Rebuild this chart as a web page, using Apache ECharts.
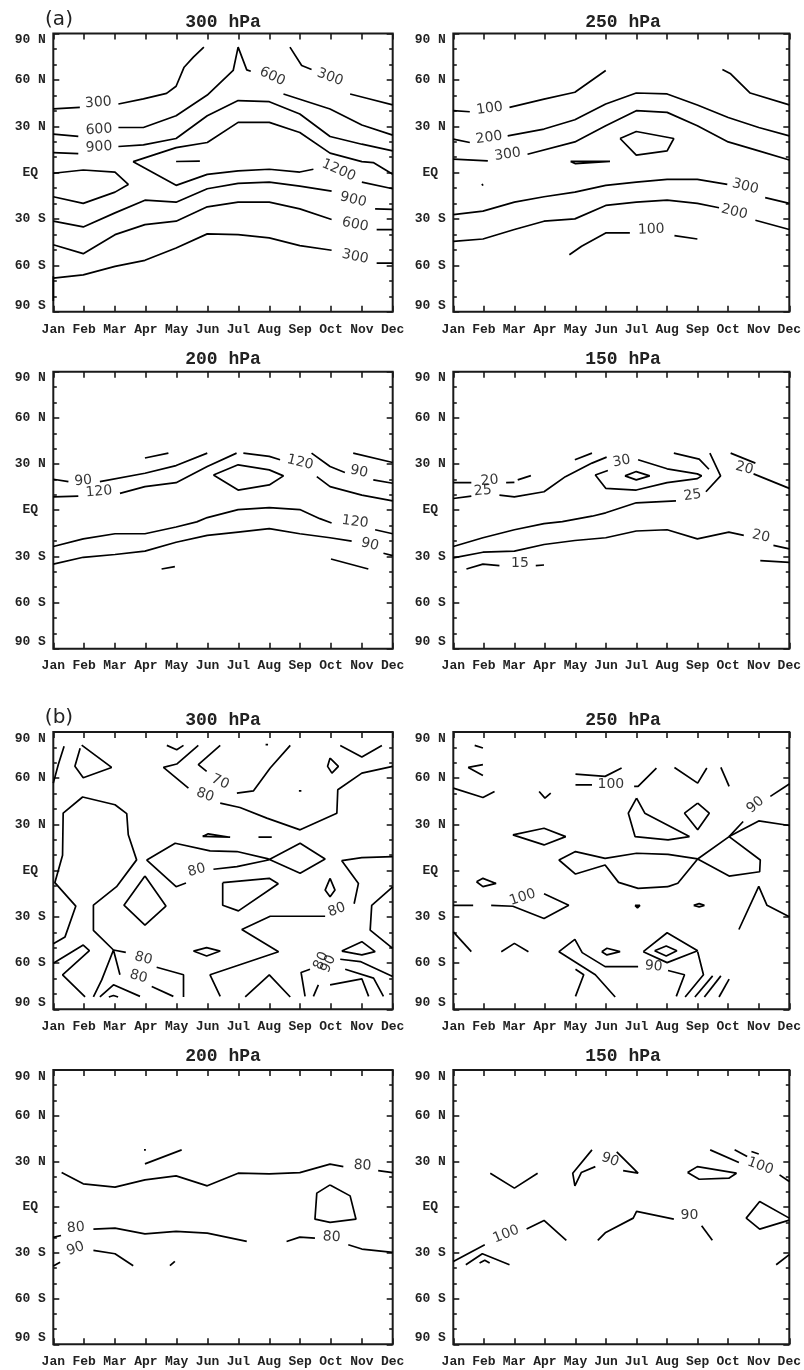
<!DOCTYPE html>
<html><head><meta charset="utf-8">
<script src="https://cdn.jsdelivr.net/npm/echarts@6/dist/echarts.min.js"></script>
<style>html,body{margin:0;padding:0;background:#fff}#c{width:804px;height:1370px}</style>
</head><body><div id="c"></div>
<script>
// ---------- axis tick labels ----------
const monthLabels = ['Jan','Feb','Mar','Apr','May','Jun','Jul','Aug','Sep','Oct','Nov','Dec'];
const latTickLabels = ['90 S','60 S','30 S','EQ','30 N','60 N','90 N'];
const panelTitles = ['300 hPa','250 hPa','200 hPa','150 hPa','300 hPa','250 hPa','200 hPa','150 hPa'];
const groupLetters = ['(a)','(b)'];

// ---------- contour polylines: [month (1=Jan..12=Dec), latitude] ----------
// (a) 300 hPa
const a300Lines = [
 [[1,41.2],[1.86,42.2]],
 [[3.11,44.4],[3.92,47.7],[4.67,51.3],[4.98,55.9],[5.24,68.2],[5.54,74.7],[5.88,81.2]],
 [[8.67,81.2],[9.05,69.3],[9.37,66.7]],
 [[10.62,50.9],[11.16,48.1],[12,43.8]],
 [[1,24.9],[1.81,23.4]],
 [[3.11,29.2],[3.92,29.2],[4.98,36.8],[5.99,50.2],[6.83,66.1],[6.99,81.2],[7.27,66.5],[7.4,65.6]],
 [[8.46,50.9],[9.97,41.2],[11,30.8],[12,24.3]],
 [[1,13],[1.81,12.3]],
 [[3.11,16.9],[3.92,18],[4.98,22.1],[5.99,36.8],[6.99,46.6],[8,45.9],[8.99,37.9],[9.97,23.4],[11,18.4],[12,14.1]],
 [[12,-1.1],[11.37,6.5],[11,7.1],[9.97,12.6],[8.99,26],[8,32.5],[6.99,32.5],[5.99,19.5],[4.98,16.2],[3.59,7.1],[4.98,-8.2],[5.99,-1.1],[6.99,1.1],[8,2.2],[8.99,0.4],[9.43,2.2]],
 [[11,-6.1],[12,-10.4]],
 [[4.98,7.2],[5.75,7.5],[5.75,6.8],[4.98,7.2]],
 [[1,-0.4],[1.97,1.7],[3,0.4],[3.43,-7.6],[3,-12.6],[1.97,-19.9],[1,-15.6]],
 [[1,-31.4],[1.97,-35.1],[3,-26],[3.97,-17.8],[4.98,-19.1],[5.99,-10.4],[6.99,-6.9],[8,-6.1],[8.99,-8.7],[10.02,-11.9]],
 [[11.43,-23.4],[12,-23.8]],
 [[1,-46.6],[1.97,-52.4],[3,-40.1],[3.97,-33.6],[4.98,-31.4],[5.99,-22.1],[6.99,-19.1],[8,-19.1],[8.99,-23.4],[10.02,-30.3]],
 [[11.48,-36.8],[12,-36.8]],
 [[1,-68.2],[1.97,-66.1],[3,-60.6],[3.97,-56.7],[4.98,-48.7],[5.99,-39.6],[6.99,-40.1],[8,-42.2],[8.99,-47.2],[10.02,-50.2]],
 [[11.48,-58.5],[12,-58.5]],
 [[1,-67],[1,-83]]
];
const a300Labels = [
 [2.46,45.3,'300',4],[2.48,27.8,'600',4],[2.48,16.5,'900',4],[8.1,62.2,'600',-25],[9.97,61.7,'300',-20],
 [10.25,1.5,'1200',-24],[10.72,-17.5,'900',-14],[10.78,-33.6,'600',-12],[10.78,-54.4,'300',-12]
];
// (a) 250 hPa
const a250Lines = [
 [[1,40.1],[1.54,39.4]],
 [[2.84,42.2],[3.97,47.6],[4.98,52],[5.99,66.1]],
 [[9.81,66.7],[10.08,63.9],[10.72,51.5],[12,43.8]],
 [[1,21.7],[1.54,19.5]],
 [[2.78,23.8],[3.97,28.2],[4.98,34.2],[5.99,44.4],[6.99,51.5],[8,50.9],[8.99,43.8],[10,35.7],[11,29.2],[12,23.8]],
 [[1,8.7],[2.13,7.6]],
 [[3.43,11.9],[4.98,19.9],[5.99,30.3],[6.99,40.1],[8,39],[8.99,30.3],[10,19.9],[11,14.1],[12,8.2]],
 [[6.46,22.1],[6.99,26.6],[8.22,22.1],[8,14.1],[6.99,11.3],[6.46,22.1]],
 [[4.84,7.3],[6.13,7.3],[5.0,5.8],[4.84,7.3]],
 [[1.94,-7.2],[2.0,-7.2],[1.97,-8.4],[1.94,-7.2]],
 [[1,-27.1],[1.97,-24.9],[3,-19.1],[3.97,-15.6],[4.98,-12.6],[5.99,-8.2],[6.99,-6.1],[8,-4.3],[8.99,-4.3],[9.97,-7.6]],
 [[11.21,-16.2],[12,-19.9]],
 [[1,-44.4],[1.97,-42.9],[3,-36.8],[3.97,-31.4],[4.98,-29.9],[5.99,-21.2],[6.99,-19.1],[8,-17.8],[8.99,-19.9],[9.7,-22.7]],
 [[10.89,-30.8],[12,-36.8]],
 [[4.8,-53.1],[5.2,-47.6],[5.99,-39],[6.78,-39]],
 [[8.24,-40.7],[8.99,-42.9]]
];
const a250Labels = [
 [2.19,41.4,'100',8],[2.17,22.5,'200',8],[2.78,11.7,'300',8],[10.56,-9,'300',-14],[10.2,-25.4,'200',-14],[7.48,-36.8,'100',2]
];
// (a) 200 hPa
const a200Lines = [
 [[3.97,33.9],[4.73,37.1]],
 [[1,20.1],[1.49,18.6]],
 [[2.51,18.6],[3.97,24],[4.98,29],[5.99,37.1]],
 [[1,8.7],[1.81,9.2]],
 [[3.16,10.9],[3.97,15.3],[4.98,17.9],[5.99,28.4],[6.94,37.1]],
 [[7.16,37.1],[8,35],[8.35,32.8]],
 [[9.54,21.8],[9.97,15.3],[11,9.8],[12,6.1]],
 [[9.37,37.1],[9.97,28.4],[10.45,24.5]],
 [[11.37,19.7],[12,17.5]],
 [[10.72,37.1],[12,31]],
 [[6.19,22.9],[6.99,29.5],[8,26.2],[8.46,22.3],[8,16.4],[6.99,13.1],[6.19,22.9]],
 [[1,-23.6],[1.97,-18.6],[3,-15.3],[3.97,-15.3],[4.98,-10.9],[5.65,-7.6],[5.99,-4.8],[6.99,0.4],[8,1.7],[8.99,0.4],[9.64,-5.5],[10.02,-8.3]],
 [[11.43,-12.7],[12,-15.3]],
 [[1,-35],[1.97,-30.6],[3,-28.8],[3.97,-26.6],[4.98,-20.8],[5.99,-16.4],[6.99,-14.2],[8,-12],[8.99,-15.3],[9.97,-17.9],[10.67,-20.1]],
 [[11.7,-28],[12,-29.5]],
 [[4.51,-38.2],[4.94,-36.7]],
 [[10,-31.7],[11.21,-38.2]]
];
const a200Labels = [
 [1.97,19,'90',5],[2.48,12,'120',5],[9,31,'120',-14],[10.91,25.1,'90',-12],[10.78,-7.6,'120',-8],[11.26,-22.3,'90',-14]
];
// (a) 150 hPa
const a150Lines = [
 [[1,17.9],[1.59,17.9]],
 [[2.73,17.9],[3.0,18.1]],
 [[3.11,19.7],[3.54,22.5]],
 [[4.98,32.8],[5.54,37.1]],
 [[1,7.6],[1.59,9.2]],
 [[2.51,9.8],[3,8.7],[3.97,12],[4.67,21.8],[5.54,30.6],[6.02,34.5]],
 [[7.05,32.8],[8,26.9],[8.99,23.6],[9.13,22.3],[8.99,20.5],[8,17.9],[6.99,13.1],[5.99,14.2],[5.65,22.9],[6.06,25.8]],
 [[6.62,22.3],[6.99,25.1],[7.43,22.3],[6.99,19.7],[6.62,22.3]],
 [[8.22,37.1],[9.05,33.2],[9.37,26.6]],
 [[1,-23.6],[1.97,-17.9],[3,-12.7],[3.97,-8.7],[4.57,-7.4],[5.54,-3.9],[5.99,-1.7],[6.99,4.8],[8.29,6.1]],
 [[9.27,12],[9.75,22.3],[9.4,37.1]],
 [[10.08,37.1],[10.89,30.6]],
 [[10.83,23.6],[12,14.2]],
 [[1,-31],[1.97,-27.3],[3,-26.6],[3.97,-22.3],[4.98,-19.7],[5.99,-17.9],[6.99,-13.5],[8,-12.7],[8.99,-18.6],[10.02,-14.2],[10.51,-16.4]],
 [[11.48,-22.9],[12,-25.1]],
 [[11.05,-32.8],[12,-33.9]],
 [[1.43,-38.2],[1.97,-35],[2.51,-36]],
 [[3.7,-36],[3.97,-35.6]]
];
const a150Labels = [
 [2.19,19.3,'20',5],[1.97,12.6,'25',5],[6.51,31.8,'30',10],[8.83,9.6,'25',8],[10.53,27.3,'20',-15],[11.07,-17,'20',-12],[3.18,-34.5,'15',0]
];
// (b) 300 hPa
const b300Lines = [
 [[1,56.8],[1.16,68.8],[1.35,80.7]],
 [[1.92,81.5],[2.89,67],[1.97,60.3],[1.70,67.7],[1.87,79.5]],
 [[4.68,81.3],[5,78.5],[5.22,81.3]],
 [[5.70,81.3],[5.0,69.2],[4.57,67],[5.38,53.6]],
 [[6.41,43.8],[7.05,41],[7.92,34.1],[9,26.5],[10.19,37.3],[10.22,52.5],[11,63.3],[12,67.7]],
 [[6.41,81.3],[5.70,68.8],[5.97,64.4]],
 [[6.95,50.3],[7.49,51.8],[8.03,66.6],[8.68,81.3]],
 [[7.88,81.8],[7.96,81.8]],
 [[8.96,51.8],[9.04,51.8]],
 [[9.97,73.1],[10.24,67.7],[10.03,63.3],[9.89,67.7],[9.97,73.1]],
 [[10.30,81.3],[11,73.8],[11.65,81.3]],
 [[1,-47.4],[1.38,-43],[1.73,-23],[1.05,-7.8],[1.3,10],[1.32,37.4],[1.95,47.8],[3,42.8],[3.38,37],[3.43,23.3],[3.70,7],[3.05,-10.4],[2.30,-22.4],[2.30,-38.7],[2.95,-51.5]],
 [[3.97,-3.5],[4.65,-23],[3.97,-35.4],[3.29,-22.4],[3.97,-3.5]],
 [[5.3,-8],[4.98,-10.4],[4.03,6.9],[4.95,17.8],[6.08,12.8],[6.95,12.4],[7.97,7.6],[9,-1.7],[9.81,7.6],[9,17.8],[7.97,6.9],[6.95,2.6],[6.19,0.9]],
 [[5.84,22.2],[6.02,23.9],[6.73,21.7],[5.84,22.2]],
 [[7.65,21.7],[8.08,21.7]],
 [[12,9.1],[11,8.5],[10.35,6.5],[10.89,-8.3],[10.75,-21.5]],
 [[9.81,-29.6],[8.03,-29.6],[7.11,-38.2],[8.30,-52.6],[6.08,-67.6],[6.41,-81.6]],
 [[6.49,-7.8],[8,-5],[8.29,-8.5],[7,-26.1],[6.49,-22.5],[6.49,-7.8]],
 [[9.97,-5],[10.13,-12.6],[9.97,-17],[9.81,-12.6],[9.97,-5]],
 [[12,-10.6],[11.32,-22.5],[11.27,-38.6],[12,-50.4]],
 [[5.54,-52.2],[5.97,-50],[6.41,-52.2],[5.97,-55.4],[5.54,-52.2]],
 [[10.35,-52.2],[11,-46.1],[11.43,-52.6],[11,-54.7],[10.35,-52.2]],
 [[10.30,-57.5],[10.95,-59],[12,-68.7]],
 [[10.46,-64],[11.38,-69.8],[11.7,-81.6]],
 [[9.97,-74.1],[11,-70.2],[11.22,-81.6]],
 [[9.32,-64],[9.03,-66.1],[9.16,-81.6]],
 [[9.59,-74.1],[9.43,-81.6]],
 [[7.22,-82],[8.0,-67.6],[8.68,-82]],
 [[1,-60.1],[1.97,-48.3],[2.17,-51.9],[1.3,-67.6],[2.03,-82]],
 [[2.30,-82],[2.57,-70.9],[2.95,-51.5],[3.16,-67.6]],
 [[4.19,-75.2],[4.89,-81.6]],
 [[2.95,-51.5],[3.35,-53]],
 [[4.35,-62.7],[5.22,-67.6],[5.22,-82]],
 [[2.51,-82],[2.95,-74.1],[3.81,-81.6]],
 [[2.8,-82],[2.95,-81],[3.1,-82]]
];
const b300Labels = [
 [6.41,57.6,'70',-25],[5.92,49,'80',-20],[5.65,0.2,'80',15],[10.19,-25.5,'80',20],
 [3.92,-57,'80',-15],[3.76,-68.8,'80',-15],[9.68,-58.5,'80',65],[9.92,-60.5,'90',65]
];
// (b) 250 hPa
const b250Lines = [
 [[1.70,81.3],[1.97,79.6]],
 [[1.97,68.8],[1.49,67],[1.97,61.8]],
 [[1,53.6],[1.97,47.5],[2.35,51.4]],
 [[3.81,51.4],[4.0,47.1],[4.19,50.3]],
 [[5,62.7],[5.97,61.2],[6.51,66.6]],
 [[5,55.7],[5.54,55.7]],
 [[6.92,54.7],[7.05,54.7],[7.65,66.6]],
 [[8.24,67],[9,56.8],[9.3,66.6]],
 [[9.76,67],[10.03,54.7]],
 [[8.03,-10.4],[8.35,-8.2],[9,7.6],[10.03,22.1],[10.49,31.9]],
 [[11.38,48.2],[12,56.2]],
 [[7,47.1],[6.73,37.3],[6.95,22.1],[8.03,20],[8.73,22.1],[7.27,37.3],[7,47.1]],
 [[9,43.8],[9.38,37.3],[9,26.5],[8.57,37.3],[9,43.8]],
 [[2.95,23.2],[3.97,27.5],[4.68,22.1],[3.97,16.7],[2.95,23.2]],
 [[9,7.6],[8.03,10.6],[7,11.3],[5.97,8],[5,12.4],[4.46,6.9],[5,-2.2],[5.97,3.7],[6.41,-7.6],[7.05,-11.5],[8.03,-10.4]],
 [[9,7.6],[10.03,-3.5],[11.03,-0.7],[11.05,6.9],[10.03,22.1],[11,32.3],[12,29.3]],
 [[1.76,-7.2],[1.97,-5],[2.40,-8.3],[1.97,-10.4],[1.76,-7.2]],
 [[1,-22.5],[1.65,-22.5]],
 [[2.24,-22.5],[2.95,-23.1],[3.97,-31.1],[4.78,-22.5],[3.97,-15]],
 [[6.95,-22.5],[7.11,-22.5],[7.03,-24.2],[6.95,-22.5]],
 [[8.87,-22.5],[9.05,-21.4],[9.22,-22.5],[9.05,-23.5],[8.87,-22.5]],
 [[10.35,-38.2],[11,-10.2],[11.27,-22.5],[12,-30]],
 [[1,-39.7],[1.59,-52.6]],
 [[2.57,-52.6],[3,-47.2],[3.46,-52.6]],
 [[8.30,-81.6],[8.57,-67.6],[8.03,-64.8]],
 [[7.05,-62.3],[5.97,-62.3],[5.22,-53.2],[4.98,-44.6],[4.46,-52.6],[5.65,-67.6],[6.30,-82]],
 [[5.86,-52.6],[6.03,-50.4],[6.46,-52.6],[6.03,-54.7],[5.86,-52.6]],
 [[5,-64],[5.27,-67.6],[5,-81.6]],
 [[7.22,-52.6],[8,-40.3],[9,-52],[8,-59.7],[7.22,-52.6]],
 [[7.59,-52],[7.97,-48.9],[8.32,-52],[7.97,-55.4],[7.59,-52]],
 [[9,-52.6],[9.19,-67.6],[8.59,-82]],
 [[8.91,-82],[9.49,-68.3]],
 [[9.22,-82],[9.76,-68.3]],
 [[9.7,-82],[10.03,-70.4]]
];
const b250Labels = [
 [6.16,56.2,'100',0],[10.89,42.7,'90',40],[3.27,-17.4,'100',18],[7.56,-62.2,'90',-5]
];
// (b) 200 hPa
const b200Lines = [
 [[3.94,37.6],[4.0,37.6]],
 [[3.97,28.4],[5.16,37.6]],
 [[1.27,22.7],[1.97,15.3],[3,13.1],[3.97,17.9],[4.98,20.5],[5.99,14],[6.99,22.3],[8,21.8],[8.99,22.7],[9.97,28.2],[10.4,26.6]],
 [[11.53,24],[12,22.7]],
 [[9.97,14.6],[10.62,7.4],[10.81,-7.9],[9.97,-10],[9.48,-7.9],[9.54,9.2],[9.97,14.6]],
 [[1,-19.8],[1.25,-18.6]],
 [[2.30,-14.4],[3,-13.8],[3.97,-17.5],[4.98,-15.9],[5.99,-17],[7.27,-22.5]],
 [[8.56,-22.5],[8.99,-19.7],[9.48,-20.3]],
 [[10.56,-24.7],[11,-27.5],[12,-29.7]],
 [[1.0,-38.6],[1.22,-36.2]],
 [[2.30,-28.4],[3,-30.6],[3.59,-38.4]],
 [[4.78,-38.4],[4.94,-35.6]]
];
const b200Labels = [
 [11.02,27.3,'80',-3],[1.73,-13.6,'80',5],[10.02,-19.7,'80',-3],[1.72,-27.3,'90',20]
];
// (b) 150 hPa
const b150Lines = [
 [[2.21,22.3],[3,12.5],[3.76,22.3]],
 [[5.54,37.6],[4.91,22.3],[4.98,14],[5.19,22.7],[5.65,26.6]],
 [[6.35,36.3],[7.05,22.3],[6.56,24]],
 [[9.41,37.6],[10.35,29.3]],
 [[10.21,37.6],[10.62,33.2]],
 [[10.76,36.5],[11,34.9]],
 [[11.68,21.2],[12,16.8]],
 [[8.67,22.7],[8.99,26.6],[10.27,22.3],[10.02,19],[9.05,18.3],[8.67,22.7]],
 [[5.73,-21.8],[5.99,-16.6],[6.89,-7.2],[7,-2.8],[8.22,-7.9]],
 [[9.13,-12.2],[9.48,-21.8]],
 [[1,-35.6],[2.03,-24.7]],
 [[3.4,-14.4],[3.97,-8.7],[4.70,-21.8]],
 [[1.41,-37.8],[1.95,-30.6],[2.84,-37.8]],
 [[1.86,-36.7],[2.03,-34.9],[2.19,-36.7]],
 [[12,-7.2],[11.03,3.7],[10.59,-7.2],[11.03,-14.4],[12,-8.5]],
 [[11.57,-37.8],[12,-31.2]]
];
const b150Labels = [
 [6.13,31,'90',-20],[11.05,26.9,'100',-20],[8.73,-5.7,'90',0],[2.73,-17.8,'100',22]
];

const panelLines = [a300Lines,a250Lines,a200Lines,a150Lines,b300Lines,b250Lines,b200Lines,b150Lines];
const panelLabels = [a300Labels,a250Labels,a200Labels,a150Labels,b300Labels,b250Labels,b200Labels,b150Labels];

// ---------- layout (pixels) ----------
const colLeft = [53.3, 453.3];
const plotW = 339.4;
const rowTop = [33.5, 371.7, 732, 1070];
const rowH = [278.3, 277, 277.3, 274.3];
const titleY = [22.5, 359, 720.5, 1056.5];
const letterPos = [[59,20],[59,718]];

const FONT_AX = '"Liberation Mono", "DejaVu Sans Mono", monospace';
const grids = [], xAxes = [], yAxes = [], series = [], graphics = [];

for (let p = 0; p < 8; p++) {
  const r = Math.floor(p / 2), c = p % 2;
  grids.push({left: colLeft[c], top: rowTop[r], width: plotW, height: rowH[r],
    show: true, borderColor: '#1a1a1a', borderWidth: 2, backgroundColor: 'transparent'});
  const tickStyle = {color: '#1a1a1a', width: 1.6};
  xAxes.push({type: 'value', gridIndex: p, min: 1, max: 12, interval: 1, position: 'bottom',
    axisLine: {show: false, onZero: false}, splitLine: {show: false},
    axisTick: {inside: true, length: 6, lineStyle: tickStyle},
    axisLabel: {margin: 11, color: '#222', fontFamily: FONT_AX, fontWeight: 'bold', fontSize: 13,
      showMinLabel: true, showMaxLabel: true, formatter: v => monthLabels[Math.round(v) - 1] || ''}});
  xAxes.push({type: 'value', gridIndex: p, min: 1, max: 12, interval: 1, position: 'top',
    axisLine: {show: false, onZero: false}, splitLine: {show: false},
    axisTick: {inside: true, length: 6, lineStyle: tickStyle}, axisLabel: {show: false}});
  yAxes.push({type: 'value', gridIndex: p, min: -90, max: 90, interval: 30, position: 'left',
    axisLine: {show: false, onZero: false}, splitLine: {show: false}, minorSplitLine: {show: false},
    axisTick: {inside: true, length: 6, lineStyle: tickStyle},
    minorTick: {show: true, splitNumber: 3, length: 3.5, lineStyle: tickStyle},
    axisLabel: {margin: 23, align: 'center', color: '#222', fontFamily: FONT_AX, fontWeight: 'bold', fontSize: 13,
      showMinLabel: true, showMaxLabel: true,
      verticalAlignMaxLabel: 'top', verticalAlignMinLabel: 'bottom',
      formatter: v => latTickLabels[Math.round((v + 90) / 30)]}});
  yAxes.push({type: 'value', gridIndex: p, min: -90, max: 90, interval: 30, position: 'right',
    axisLine: {show: false, onZero: false}, splitLine: {show: false}, minorSplitLine: {show: false},
    axisTick: {inside: true, length: 6, lineStyle: tickStyle},
    minorTick: {show: true, splitNumber: 3, length: 3.5, lineStyle: tickStyle},
    axisLabel: {show: false}});

  panelLines[p].forEach(seg => {
    series.push({type: 'line', xAxisIndex: 2 * p, yAxisIndex: 2 * p, data: seg,
      symbol: 'none', showSymbol: false, silent: true, smooth: false,
      lineStyle: {color: '#000', width: 1.7}, z: 3});
  });
  series.push({type: 'scatter', xAxisIndex: 2 * p, yAxisIndex: 2 * p, symbolSize: 0, silent: true, z: 6,
    label: {show: true, position: 'inside', color: '#000', fontFamily: '"DejaVu Sans", sans-serif', fontSize: 14},
    data: panelLabels[p].map(l => ({value: [l[0], l[1]], label: {formatter: l[2], rotate: l[3]}}))});

  graphics.push({type: 'text', x: colLeft[c] + plotW / 2, y: titleY[r],
    style: {text: panelTitles[p], textAlign: 'center', textVerticalAlign: 'middle',
      font: 'bold 18px "Liberation Mono", monospace', fill: '#222'}});
}
groupLetters.forEach((t, i) => {
  graphics.push({type: 'text', x: letterPos[i][0], y: letterPos[i][1],
    style: {text: t, textAlign: 'center', textVerticalAlign: 'middle',
      font: '20px "DejaVu Sans", sans-serif', fill: '#222'}});
});

const chart = echarts.init(document.getElementById('c'), null, {renderer: 'canvas'});
chart.setOption({animation: false, backgroundColor: '#fff', grid: grids, xAxis: xAxes, yAxis: yAxes,
  series: series, graphic: graphics});
</script></body></html>
